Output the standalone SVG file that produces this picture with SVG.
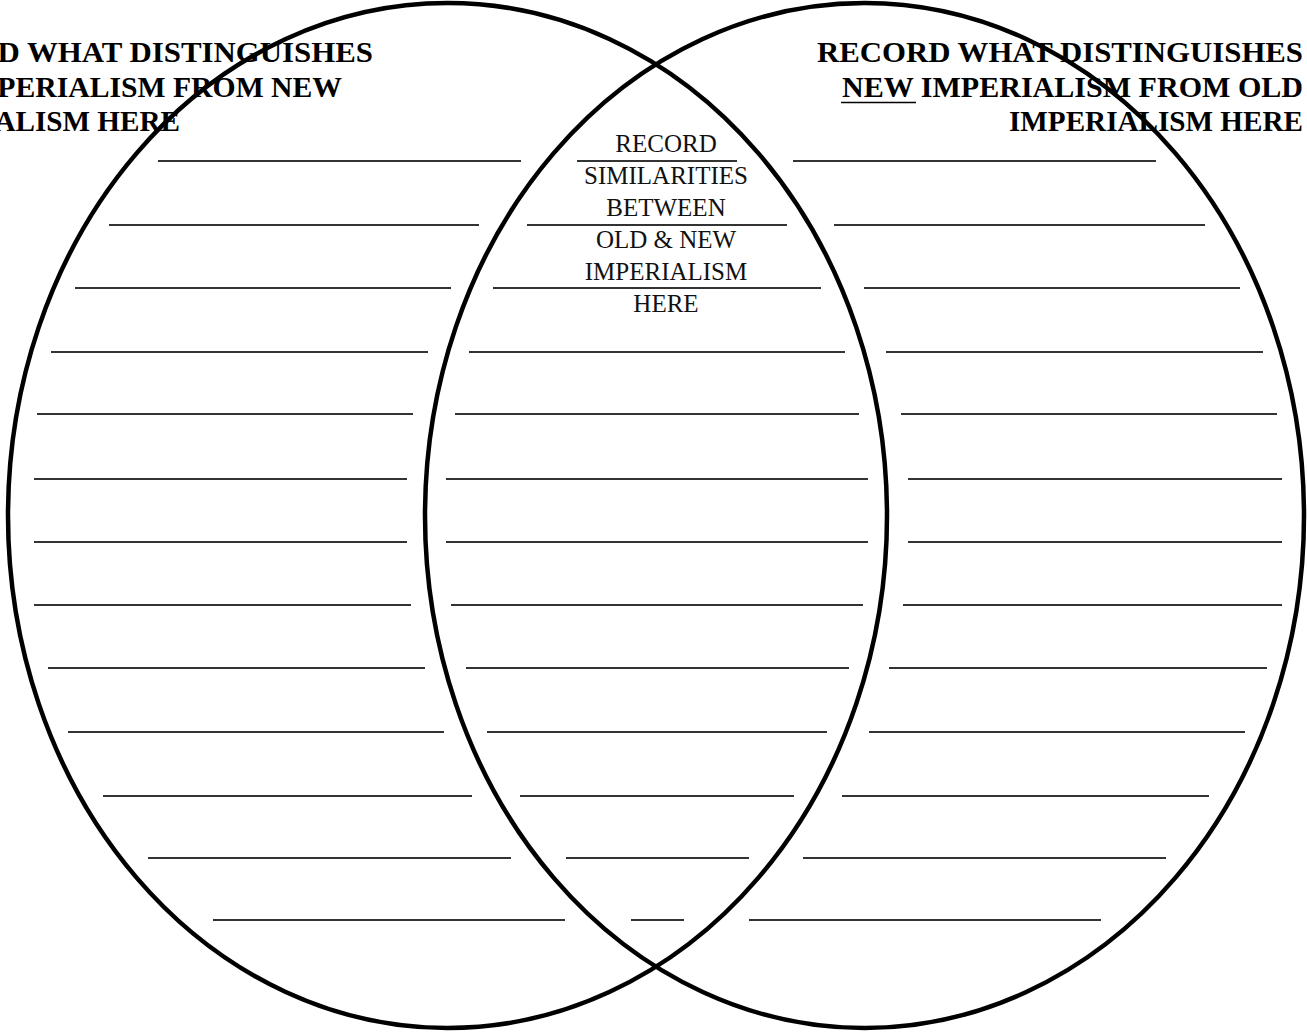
<svg xmlns="http://www.w3.org/2000/svg" width="1307" height="1036" viewBox="0 0 1307 1036">
<style>
.rule{stroke:#333;stroke-width:1.9;fill:none}
.ring{stroke:#000;stroke-width:4.5;fill:none}
.head{font-family:"Liberation Serif",serif;font-weight:bold;font-size:30px;fill:#000}
.mid{font-family:"Liberation Serif",serif;font-size:25px;fill:#111;text-anchor:middle}
</style>
<rect width="1307" height="1036" fill="#fff"/>
<g id="labels">
<text class="head" x="-114" y="62" textLength="487" lengthAdjust="spacingAndGlyphs">RECORD WHAT DISTINGUISHES</text>
<text class="head" x="-114" y="97" textLength="456" lengthAdjust="spacingAndGlyphs"><tspan text-decoration="underline">OLD</tspan> IMPERIALISM FROM NEW</text>
<text class="head" x="-114" y="131" textLength="294" lengthAdjust="spacingAndGlyphs">IMPERIALISM HERE</text>
<text class="head" x="817" y="62" textLength="486" lengthAdjust="spacingAndGlyphs">RECORD WHAT DISTINGUISHES</text>
<text class="head" x="842" y="97" textLength="461" lengthAdjust="spacingAndGlyphs">NEW IMPERIALISM FROM OLD</text>
<line x1="841" y1="102.5" x2="916" y2="102.5" stroke="#000" stroke-width="1.5"/>
<text class="head" x="1009" y="131" textLength="294" lengthAdjust="spacingAndGlyphs">IMPERIALISM HERE</text>
<text class="mid" x="666" y="152">RECORD</text>
<text class="mid" x="666" y="184">SIMILARITIES</text>
<text class="mid" x="666" y="216">BETWEEN</text>
<text class="mid" x="666" y="248">OLD &amp; NEW</text>
<text class="mid" x="666" y="280">IMPERIALISM</text>
<text class="mid" x="666" y="312">HERE</text>
</g>
<g id="lines">
<line class="rule" x1="158" y1="161" x2="521" y2="161"/>
<line class="rule" x1="577" y1="161" x2="737" y2="161"/>
<line class="rule" x1="793" y1="161" x2="1156" y2="161"/>
<line class="rule" x1="109" y1="225" x2="479" y2="225"/>
<line class="rule" x1="527" y1="225" x2="787" y2="225"/>
<line class="rule" x1="834" y1="225" x2="1205" y2="225"/>
<line class="rule" x1="75" y1="288" x2="451" y2="288"/>
<line class="rule" x1="493" y1="288" x2="821" y2="288"/>
<line class="rule" x1="864" y1="288" x2="1240" y2="288"/>
<line class="rule" x1="51" y1="352" x2="428" y2="352"/>
<line class="rule" x1="469" y1="352" x2="845" y2="352"/>
<line class="rule" x1="886" y1="352" x2="1263" y2="352"/>
<line class="rule" x1="37" y1="414" x2="413" y2="414"/>
<line class="rule" x1="455" y1="414" x2="859" y2="414"/>
<line class="rule" x1="901" y1="414" x2="1277" y2="414"/>
<line class="rule" x1="34" y1="479" x2="407" y2="479"/>
<line class="rule" x1="446" y1="479" x2="868" y2="479"/>
<line class="rule" x1="908" y1="479" x2="1282" y2="479"/>
<line class="rule" x1="34" y1="542" x2="407" y2="542"/>
<line class="rule" x1="446" y1="542" x2="868" y2="542"/>
<line class="rule" x1="908" y1="542" x2="1282" y2="542"/>
<line class="rule" x1="34" y1="605" x2="411" y2="605"/>
<line class="rule" x1="451" y1="605" x2="863" y2="605"/>
<line class="rule" x1="903" y1="605" x2="1282" y2="605"/>
<line class="rule" x1="48" y1="668" x2="425" y2="668"/>
<line class="rule" x1="466" y1="668" x2="849" y2="668"/>
<line class="rule" x1="889" y1="668" x2="1267" y2="668"/>
<line class="rule" x1="68" y1="732" x2="444" y2="732"/>
<line class="rule" x1="487" y1="732" x2="827" y2="732"/>
<line class="rule" x1="869" y1="732" x2="1245" y2="732"/>
<line class="rule" x1="103" y1="796" x2="472" y2="796"/>
<line class="rule" x1="520" y1="796" x2="794" y2="796"/>
<line class="rule" x1="842" y1="796" x2="1209" y2="796"/>
<line class="rule" x1="148" y1="858" x2="511" y2="858"/>
<line class="rule" x1="566" y1="858" x2="749" y2="858"/>
<line class="rule" x1="803" y1="858" x2="1166" y2="858"/>
<line class="rule" x1="213" y1="920" x2="565" y2="920"/>
<line class="rule" x1="631" y1="920" x2="684" y2="920"/>
<line class="rule" x1="749" y1="920" x2="1101" y2="920"/>
</g>
<g id="circle-left">
<ellipse class="ring" cx="447.5" cy="515.5" rx="439.5" ry="512.5"/>
</g>
<g id="circle-right">
<ellipse class="ring" cx="864.5" cy="515.5" rx="439.5" ry="512.5"/>
</g>
</svg>
